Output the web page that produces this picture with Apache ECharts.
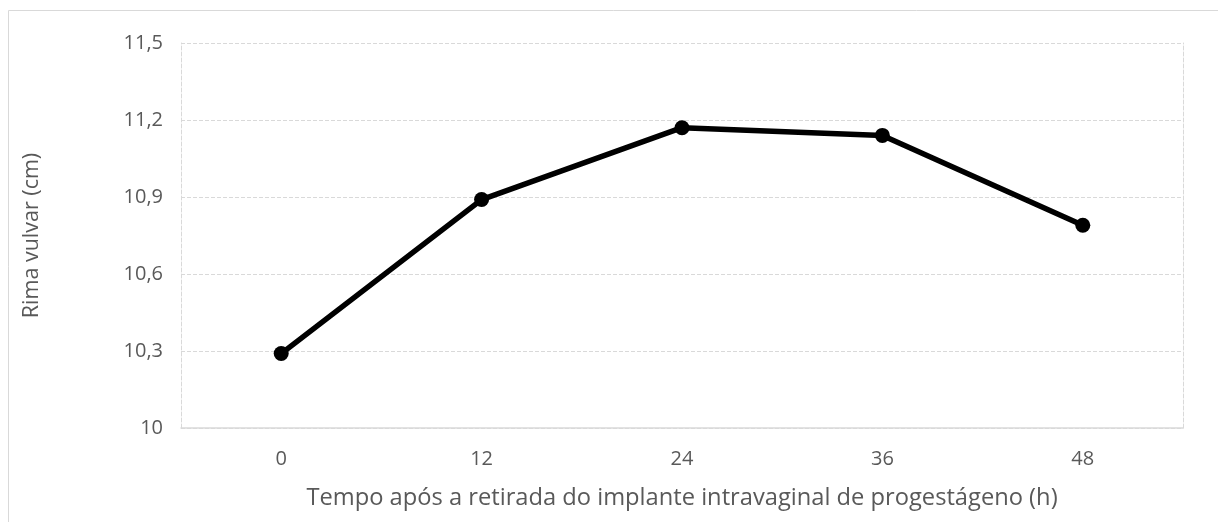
<!DOCTYPE html>
<html><head><meta charset="utf-8">
<script src="https://cdn.jsdelivr.net/npm/echarts@6/dist/echarts.min.js"></script>
<style>html,body{margin:0;padding:0;background:#fff}#c{width:1218px;height:522px}</style>
</head><body><div id="c"></div>
<script>
const categories = ['0', '12', '24', '36', '48'];
const values = [10.29, 10.89, 11.17, 11.14, 10.79];
const xTitle = 'Tempo após a retirada do implante intravaginal de progestágeno (h)';
const yTitle = 'Rima vulvar (cm)';
const chart = echarts.init(document.getElementById('c'));
const fmt = v => String(Math.round(v * 10) / 10).replace('.', ',');
const font = 'Open Sans';
chart.setOption({
  animation: false,
  graphic: [{type: 'rect', shape: {x: 8.5, y: 10.5, width: 1230, height: 540}, style: {fill: 'none', stroke: '#d9d9d9', lineWidth: 1}}],
  grid: {left: 181, top: 43, right: 35, bottom: 94},
  xAxis: {
    type: 'category', data: categories, boundaryGap: true,
    axisLine: {show: true, lineStyle: {color: '#d9d9d9', width: 1.5}},
    axisTick: {show: false},
    axisLabel: {color: '#595959', fontFamily: font, fontSize: 20, margin: 21},
    name: xTitle, nameLocation: 'middle', nameGap: 58,
    nameTextStyle: {color: '#595959', fontFamily: font, fontSize: 23.7}
  },
  yAxis: [{
    type: 'value', min: 10, max: 11.5, interval: 0.3,
    axisLine: {show: true, lineStyle: {color: '#d9d9d9', type: 'dashed', width: 1}},
    axisTick: {show: false},
    splitLine: {show: true, lineStyle: {color: '#d9d9d9', type: 'dashed', width: 1}},
    axisLabel: {color: '#595959', fontFamily: font, fontSize: 20, margin: 18, formatter: fmt},
    name: yTitle, nameLocation: 'middle', nameGap: 138, nameRotate: 90,
    nameTextStyle: {color: '#595959', fontFamily: font, fontSize: 21.5}
  }, {
    type: 'value', position: 'right', min: 10, max: 11.5, interval: 0.3,
    axisLine: {show: true, lineStyle: {color: '#d9d9d9', type: 'dashed', width: 1}},
    axisTick: {show: false}, axisLabel: {show: false}, splitLine: {show: false}
  }],
  series: [{
    type: 'line', data: values, yAxisIndex: 0,
    lineStyle: {color: '#000', width: 5.5},
    itemStyle: {color: '#000'},
    symbol: 'circle', symbolSize: 15
  }]
});
</script></body></html>
